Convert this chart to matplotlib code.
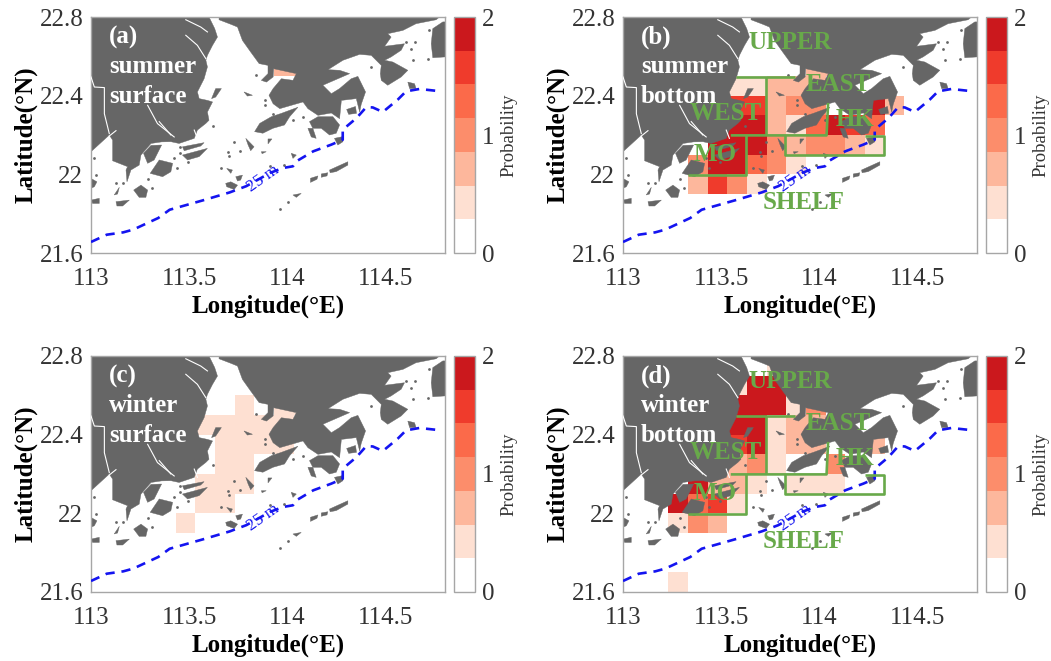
import numpy as np
import matplotlib
matplotlib.use("Agg")
import matplotlib.pyplot as plt
from matplotlib.colors import ListedColormap, BoundaryNorm

plt.rcParams["font.family"] = ["Liberation Serif", "DejaVu Serif"]

# ---------------------------------------------------------------------------
# Data
# ---------------------------------------------------------------------------

lon_edges = [113.23, 113.33, 113.43, 113.53, 113.63, 113.73, 113.83,
             113.93, 114.03, 114.13, 114.23, 114.33, 114.43]
lat_edges = [21.6, 21.7, 21.8, 21.9, 22.0, 22.1, 22.2, 22.3, 22.4, 22.5, 22.6, 22.7, 22.8]

# rows run south to north, columns west to east
prob_a = [
    [0] * 12, [0] * 12, [0] * 12, [0] * 12, [0] * 12, [0] * 12,
    [0] * 12, [0] * 12, [0] * 12,
    [0, 0, 0, 0, 0, 0, 0, .71, .71, 0, 0, 0],
    [0] * 12, [0] * 12,
]
prob_b = [
    [0] * 12, [0] * 12, [0] * 12,
    [0, .71, 1.57, 1.0, .43, 0, 0, 0, 0, 0, 0, 0],
    [0, 1.0, 1.86, 1.86, 1.29, 1.0, .43, 0, 0, 0, 0, 0],
    [0, 0, 1.86, 1.86, 1.86, 1.0, .71, 1.0, 1.0, .71, .43, 0],
    [0, 0, 0, 1.86, 1.86, .71, .43, 1.29, 1.86, 1.57, 1.29, 0],
    [0, 0, 0, 1.57, 1.57, .71, 1.0, 1.0, 0, 0, 1.86, .71],
    [0, 0, 0, .43, .43, .71, .71, .71, 0, 0, 0, 0],
    [0, 0, 0, 0, 0, 0, 0, .71, .71, 0, 0, 0],
    [0] * 12, [0] * 12,
]
prob_c = [
    [0] * 12, [0] * 12, [0] * 12,
    [0, 0, .43, 0, 0, 0, 0, 0, 0, 0, 0, 0],
    [0, 0, 0, .43, .43, 0, 0, 0, 0, 0, 0, 0],
    [0, 0, 0, .43, .43, .43, 0, 0, 0, 0, 0, 0],
    [0, 0, 0, 0, .43, .43, 0, 0, 0, 0, 0, 0],
    [0, 0, 0, 0, .43, .43, .43, .43, 0, 0, 0, 0],
    [0, 0, 0, .43, .43, .43, .43, .43, 0, 0, 0, 0],
    [0, 0, 0, 0, 0, .43, 0, .43, .43, 0, 0, 0],
    [0] * 12, [0] * 12,
]
prob_d = [
    [.43, 0, 0, 0, 0, 0, 0, 0, 0, 0, 0, 0],
    [0] * 12, [0] * 12,
    [.43, 1.0, .71, 0, 0, 0, 0, 0, 0, 0, 0, 0],
    [1.86, 1.29, 1.57, .43, 0, 0, 0, 0, 0, 0, 0, 0],
    [0, 1.86, .71, .71, .43, 0, .43, .43, .43, 0, 0, 0],
    [0, 1.86, 0, .71, 1.0, .43, 0, 0, 1.0, 0, 0, 0],
    [0, 0, 0, 1.57, 1.86, .43, .71, .71, 0, 0, .71, 0],
    [0, 0, 0, 1.86, 1.86, .43, .71, .71, 0, 0, 0, 0],
    [0, 0, 0, 1.86, 1.86, 1.86, .43, 1.0, 0, 0, 0, 0],
    [0, 0, 0, .43, 1.86, 1.86, 0, 0, 0, 0, 0, 0],
    [0, 0, 0, 0, 0, .43, 0, 0, 0, 0, 0, 0],
]

# coastline outlines, (lon, lat)
land_west = [(113.0, 22.8), (113.60, 22.8), (113.629, 22.741), (113.643, 22.698), (113.618, 22.656),
             (113.592, 22.605), (113.584, 22.58), (113.592, 22.546), (113.575, 22.486), (113.541, 22.419),
             (113.55, 22.385), (113.592, 22.376), (113.618, 22.368), (113.592, 22.317), (113.60, 22.275),
             (113.584, 22.259), (113.541, 22.225), (113.525, 22.183), (113.448, 22.157), (113.406, 22.166),
             (113.359, 22.165), (113.305, 22.157), (113.254, 22.098), (113.245, 22.047),
             (113.203, 22.022), (113.183, 21.962), (113.178, 22.022), (113.186, 22.039), (113.11, 22.069),
             (113.11, 22.174), (113.093, 22.20), (113.0, 22.115)]
land_east = [(113.651, 22.8), (113.651, 22.786), (113.711, 22.763), (113.745, 22.749), (113.77, 22.681),
             (113.812, 22.622), (113.855, 22.563), (113.90, 22.554), (113.90, 22.512), (113.866, 22.478),
             (113.892, 22.469), (113.926, 22.495), (113.929, 22.537), (114.044, 22.512), (114.027, 22.478),
             (113.968, 22.486), (113.926, 22.436), (113.905, 22.402), (113.926, 22.359), (113.96, 22.334),
             (114.036, 22.356), (114.078, 22.368), (114.103, 22.334), (114.154, 22.30), (114.222, 22.312),
             (114.264, 22.283), (114.273, 22.376), (114.349, 22.385), (114.366, 22.317), (114.374, 22.356),
             (114.396, 22.419), (114.357, 22.498), (114.323, 22.486), (114.264, 22.436), (114.222, 22.41),
             (114.179, 22.453), (114.315, 22.512), (114.264, 22.529), (114.205, 22.532), (114.281, 22.58),
             (114.366, 22.61), (114.425, 22.605), (114.476, 22.554), (114.471, 22.512), (114.476, 22.478),
             (114.509, 22.453), (114.577, 22.495), (114.611, 22.529), (114.535, 22.571), (114.493, 22.58),
             (114.526, 22.597), (114.577, 22.631), (114.594, 22.664), (114.493, 22.651), (114.526, 22.698),
             (114.509, 22.715), (114.586, 22.732), (114.653, 22.766), (114.755, 22.786), (114.772, 22.8)]
land_ne = [(114.738, 22.741), (114.789, 22.775), (114.8, 22.775), (114.8, 22.597), (114.738, 22.593), (114.73, 22.664)]
islands = [
    [(113.832, 22.217), (113.858, 22.259), (113.917, 22.293), (113.968, 22.31), (114.052, 22.341),
     (114.01, 22.293), (113.984, 22.251), (113.925, 22.234), (113.874, 22.209)],
    [(114.111, 22.268), (114.154, 22.293), (114.23, 22.293), (114.264, 22.251), (114.247, 22.209),
     (114.213, 22.2), (114.171, 22.234), (114.128, 22.234)],
    [(114.103, 22.234), (114.128, 22.234), (114.145, 22.183), (114.12, 22.19)],
    [(114.238, 22.183), (114.281, 22.192), (114.281, 22.166), (114.255, 22.149)],
    [(114.30, 22.33), (114.345, 22.345), (114.35, 22.31), (114.31, 22.305)],
    [(114.018, 22.107), (114.044, 22.098), (114.027, 22.081)],
    [(113.787, 22.183), (113.829, 22.14), (113.812, 22.12), (113.799, 22.149)],
    [(113.866, 22.115), (113.891, 22.115), (113.87, 22.105)],
    [(113.9, 22.18), (113.92, 22.18), (113.9, 22.155)],
    [(114.213, 22.022), (114.306, 22.064), (114.306, 22.047), (114.247, 22.014), (114.216, 22.008)],
    [(114.171, 22.002), (114.204, 22.008), (114.2, 21.992), (114.171, 21.985)],
    [(114.116, 21.98), (114.154, 21.992), (114.149, 21.975), (114.116, 21.959)],
    [(114.027, 21.895), (114.069, 21.903), (114.044, 21.883)],
    [(113.465, 22.14), (113.575, 22.161), (113.558, 22.144), (113.474, 22.12)],
    [(113.465, 22.098), (113.592, 22.132), (113.55, 22.09), (113.491, 22.073)],
    [(113.301, 22.005), (113.347, 22.073), (113.415, 22.056), (113.406, 22.013), (113.364, 21.988)],
    [(113.217, 21.92), (113.254, 21.945), (113.288, 21.92), (113.279, 21.883), (113.245, 21.883)],
    [(113.118, 21.895), (113.144, 21.934), (113.135, 21.90)],
    [(113.127, 21.861), (113.195, 21.869), (113.161, 21.839), (113.132, 21.839)],
    [(113.0, 21.869), (113.042, 21.878), (113.042, 21.852), (113.008, 21.852)],
    [(113.0, 21.979), (113.03, 21.962), (113.017, 21.937), (113.0, 21.929)],
    [(113.685, 21.954), (113.711, 21.962), (113.745, 21.945), (113.728, 21.923), (113.69, 21.937)],
    [(113.736, 21.988), (113.77, 21.996), (113.761, 21.971), (113.745, 21.966)],
    [(113.69, 22.03), (113.719, 22.022), (113.711, 22.005)],
    [(114.611, 22.469), (114.645, 22.461), (114.653, 22.436), (114.62, 22.436)],
    [(113.613, 22.385), (113.634, 22.436), (113.663, 22.436), (113.634, 22.393)],
    [(113.778, 22.419), (113.821, 22.402), (113.795, 22.398)],
    [(113.359, 22.149), (113.321, 22.073), (113.288, 22.056), (113.267, 22.107), (113.305, 22.147)],
]
islet_lon = [113.697, 113.702, 113.728, 113.758, 113.663, 113.618, 113.453, 113.453, 113.494, 113.423, 113.437,
             113.288, 113.308, 113.127, 113.161, 113.017, 113.025, 114.603, 114.645, 114.628, 114.636, 114.712,
             114.721, 114.425, 113.883, 113.883, 113.926, 114.027, 114.078, 113.838, 113.91, 113.98, 114.0, 113.96]
islet_lat = [22.115, 22.093, 22.166, 22.12, 22.03, 22.245, 22.137, 22.106, 22.064, 22.081, 22.03,
             21.974, 21.929, 21.954, 21.954, 22.081, 21.996, 22.673, 22.673, 22.639, 22.58, 22.588,
             22.732, 22.546, 22.376, 22.351, 22.308, 22.275, 22.292, 22.503, 22.04, 22.05, 21.86, 21.825]
rivers = [
    [(113.482, 22.786), (113.558, 22.749), (113.592, 22.724)],
    [(113.482, 22.707), (113.541, 22.656), (113.584, 22.588)],
    [(113.0, 22.495), (113.017, 22.444), (113.068, 22.441), (113.068, 22.308), (113.093, 22.207)],
    [(113.288, 22.351), (113.338, 22.258), (113.423, 22.19)],
    [(113.347, 22.268), (113.406, 22.2)],
    [(113.127, 22.222), (113.093, 22.195)],
    [(113.525, 22.225), (113.541, 22.183)],
]

# 25 m isobath
depth_lon = [113.0, 113.08, 113.164, 113.215, 113.342, 113.40, 113.57, 113.705, 113.79, 113.91, 113.975, 114.027,
             114.044, 114.13, 114.222, 114.28, 114.28, 114.35, 114.40, 114.433, 114.484, 114.56, 114.602, 114.67,
             114.78]
depth_lat = [21.656, 21.693, 21.705, 21.719, 21.778, 21.82, 21.868, 21.908, 21.94, 22.007, 22.032, 22.041,
             22.066, 22.117, 22.151, 22.176, 22.227, 22.286, 22.342, 22.34, 22.317, 22.38, 22.422, 22.434,
             22.422]

# sub-region borders and names
region_lines = [
    [(113.575, 22.495), (113.877, 22.495)],
    [(113.726, 22.495), (113.726, 22.198)],
    [(113.548, 22.198), (114.035, 22.198), (114.043, 22.363)],
    [(113.626, 22.198), (113.626, 21.998), (113.333, 21.998)],
    [(113.825, 22.198), (113.825, 22.1), (114.327, 22.1), (114.327, 22.193), (114.23, 22.193)],
]
region_names = ["UPPER", "EAST", "WEST", "HK", "MO", "SHELF"]
region_lon = [113.849, 114.095, 113.523, 114.18, 113.469, 113.917]
region_lat = [22.671, 22.456, 22.308, 22.281, 22.10, 21.858]

panel_names = ["(a)", "(b)", "(c)", "(d)"]
panel_line1 = ["summer", "summer", "winter", "winter"]
panel_line2 = ["surface", "bottom", "surface", "bottom"]
panel_probs = [prob_a, prob_b, prob_c, prob_d]

xticks = [113, 113.5, 114, 114.5]
xtick_labels = ["113", "113.5", "114", "114.5"]
yticks = [21.6, 22, 22.4, 22.8]
ytick_labels = ["21.6", "22", "22.4", "22.8"]

level_edges = [0, 2 / 7, 4 / 7, 6 / 7, 8 / 7, 10 / 7, 12 / 7, 2]
level_colors = ["#FFFFFF", "#FEE0D2", "#FDB79C", "#FC8D6B", "#FB6A4A", "#EF3B2C", "#CB181D"]

LAND = "#666666"
GREEN = "#68A94A"
EDGE = "#A6A6A6"
W, H = 1051, 661

cmap = ListedColormap(level_colors)
norm = BoundaryNorm(level_edges, cmap.N)


def draw_land(ax):
    for poly in [land_west, land_east, land_ne] + islands:
        xy = np.array(poly)
        ax.fill(xy[:, 0], xy[:, 1], color=LAND, lw=0.3, zorder=2)
    ax.scatter(islet_lon, islet_lat, s=4, color=LAND, lw=0, zorder=2)
    for river in rivers:
        xy = np.array(river)
        ax.plot(xy[:, 0], xy[:, 1], color="white", lw=0.8, zorder=3)


def draw_panel(i, left, top):
    ax = fig.add_axes([left / W, 1 - (top + 236) / H, 354 / W, 236 / H])
    mesh = ax.pcolormesh(lon_edges, lat_edges, np.array(panel_probs[i]), cmap=cmap, norm=norm, zorder=1)
    draw_land(ax)
    ax.plot(depth_lon, depth_lat, color="#1414F0", lw=1.9, ls=(0, (3.5, 2.6)), zorder=4)
    ax.text(113.874, 21.98, "25 m", color="#1414F0", fontsize=12.5, rotation=35,
            ha="center", va="center", zorder=4)

    ax.set_xlim(113, 114.8)
    ax.set_ylim(21.6, 22.8)
    ax.set_xticks(xticks)
    ax.set_xticklabels(xtick_labels)
    ax.set_yticks(yticks)
    ax.set_yticklabels(ytick_labels)
    ax.tick_params(length=0, labelsize=18, colors="#333333")
    ax.tick_params(axis="x", pad=10.5)
    ax.tick_params(axis="y", pad=5.5)
    ax.set_xlabel("Longitude(°E)", fontsize=18, fontweight="bold", labelpad=3.5)
    ax.set_ylabel("Latitude(°N)", fontsize=18, fontweight="bold", labelpad=1.5)
    for sp in ax.spines.values():
        sp.set_color(EDGE)
        sp.set_linewidth(1.0)

    ax.text(113.092, 22.698, panel_names[i], color="white", fontsize=18, fontweight="bold", va="center", zorder=6)
    ax.text(113.092, 22.548, panel_line1[i], color="white", fontsize=18, fontweight="bold", va="center", zorder=6)
    ax.text(113.092, 22.395, panel_line2[i], color="white", fontsize=18, fontweight="bold", va="center", zorder=6)

    # regions only on the bottom panels
    if i in (1, 3):
        for line in region_lines:
            xy = np.array(line)
            ax.plot(xy[:, 0], xy[:, 1], color=GREEN, lw=1.9, zorder=5, solid_capstyle="butt")
        for name, x, y in zip(region_names, region_lon, region_lat):
            ax.text(x, y, name, color=GREEN, fontsize=18, fontweight="bold", ha="center", va="center", zorder=6)

    cax = fig.add_axes([(left + 363) / W, 1 - (top + 236) / H, 21 / W, 236 / H])
    cb = fig.colorbar(mesh, cax=cax, ticks=[0, 1, 2], spacing="proportional")
    cb.ax.set_yticklabels(["0", "1", "2"])
    cb.ax.minorticks_off()
    cb.ax.tick_params(length=0, labelsize=18, colors="#333333", pad=5)
    cb.outline.set_edgecolor(EDGE)
    cb.outline.set_linewidth(1.0)
    cb.set_label("Probability", fontsize=13.5, color="#333333", labelpad=4)


fig = plt.figure(figsize=(W / 100, H / 100), dpi=100)
draw_panel(0, 91, 17)
draw_panel(1, 623, 17)
draw_panel(2, 91, 356)
draw_panel(3, 623, 356)
fig.savefig("out.png", dpi=100)
